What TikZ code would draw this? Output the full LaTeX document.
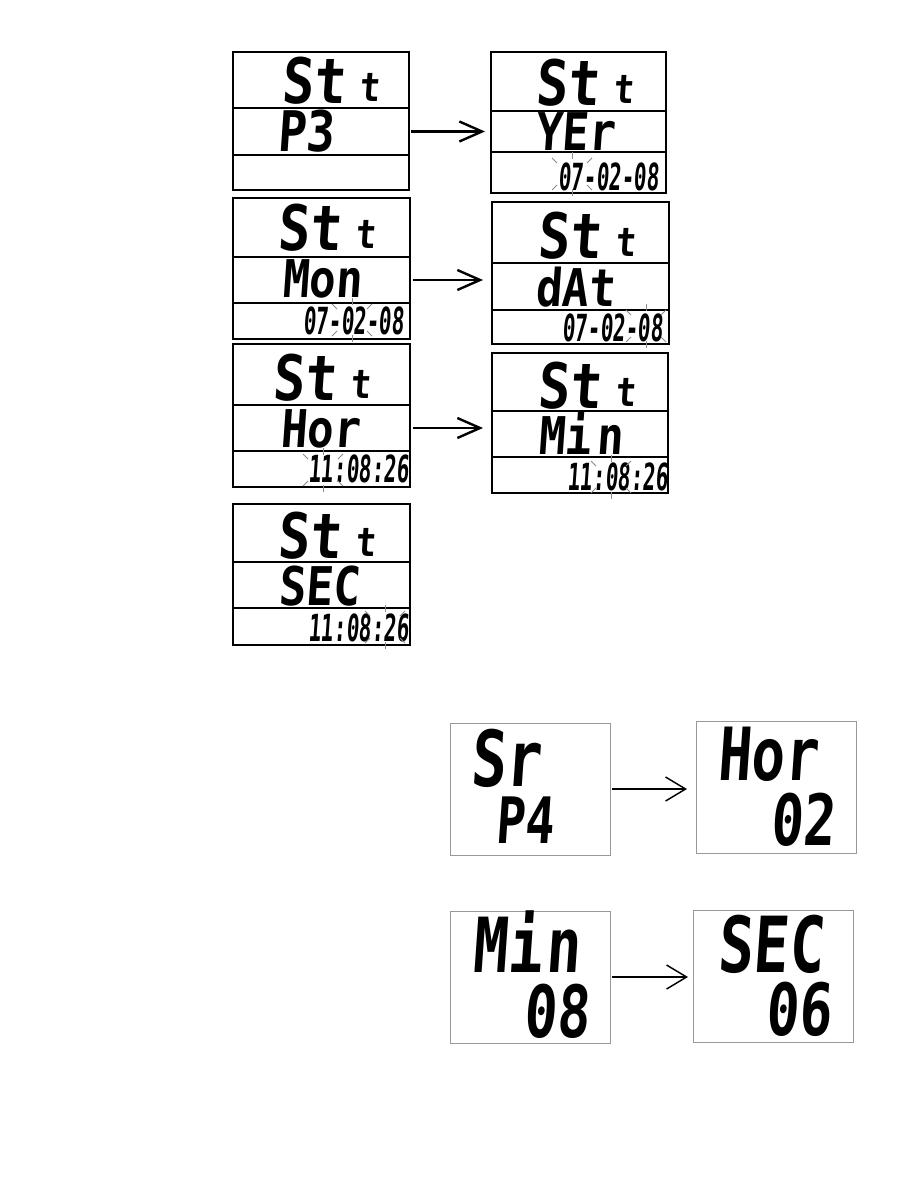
\documentclass[tikz,border=0pt]{standalone}
\usepackage{fontspec}
\usetikzlibrary{positioning,arrows.meta,fit}
\newfontfamily\lcdfont{DejaVu Sans Mono}[FakeStretch=0.85,FakeSlant=0.07]
\newfontfamily\lcdpanefont{DejaVu Sans Mono}[FakeStretch=0.76,FakeSlant=0.07]
\newfontfamily\lcdnarrow{DejaVu Sans Mono}[FakeStretch=0.56,FakeSlant=0.07]

\tikzset{
  lcdrow/.style={draw,line width=0.8pt,inner sep=0pt,outer sep=0pt},
  lcdpane/.style={draw=gray!80,line width=0.6pt,inner sep=0pt,outer sep=0pt},
  lcdtext/.style={inner sep=0pt,anchor=base west,text depth=0pt},
  blink/.style={draw=black!45,line width=0.6pt},
  flowarrow/.style={-{Straight Barb[length=17pt,width=15pt]},line width=1.8pt},
  flowthin/.style={-{Straight Barb[length=15pt,width=18pt]},line width=1.1pt},
}
\newcommand{\lcdsize}[1]{\lcdfont\bfseries\fontsize{#1}{#1}\selectfont}
\newcommand{\lcdbig}[1]{\lcdpanefont\bfseries\fontsize{#1}{#1}\selectfont}
\newcommand{\lcdtime}{\lcdnarrow\bfseries\fontsize{28}{28}\selectfont}

\begin{document}
\begin{tikzpicture}[x=0.75pt,y=-0.75pt]
  \fill[white] (0,0) rectangle (907,1199);
  \useasboundingbox (0,0) rectangle (907,1199);

  % setting panels: three rows each
  \foreach \p/\xa/\xb/\ya/\yb/\yc/\yd in {
    a/233/409/52/108/155/190, b/491/666/52/111/152/193,
    c/233/410/198/257/303/339, d/492/669/202/263/310/344,
    e/233/410/344/405/451/487, f/492/668/353/411/457/493,
    g/233/410/504/562/608/645}{
    \node[lcdrow,fit={(\xa,\ya) (\xb,\yb)}] (\p1) {};
    \node[lcdrow,fit={(\xa,\yb) (\xb,\yc)}] (\p2) {};
    \node[lcdrow,fit={(\xa,\yc) (\xb,\yd)}] (\p3) {};
  }
  \foreach \p/\x/\y in {a/281/103,b/535/105,c/277/250,d/537/258,
                        e/272/400,f/537/408,g/277/558}{
    \node[lcdtext,font=\lcdsize{47}] (\p St) at (\x,\y) {St};
    \node[lcdtext,font=\lcdsize{30}] (\p tt) at (\x+78,\y-2) {t};
  }

  \node[lcdtext,font=\lcdsize{42}] (aword) at (277,151) {P3};
  \node[lcdtext,font=\lcdsize{39}] (bword) at (535,150) {YEr};
  \node[lcdtext,font=\lcdsize{39}] (cword) at (282,297) {Mon};
  \node[lcdtext,font=\lcdsize{39}] (dword) at (535,306) {dAt};
  \node[lcdtext,font=\lcdsize{39}] (eword) at (280,447) {Hor};
  \node[lcdtext,font=\lcdsize{39}] (fword) at (538,454) {Mi\kern4pt n};
  \node[lcdtext,font=\lcdsize{40}] (gword) at (278,605) {SEC};

  \node[lcdtext,font=\lcdtime] (bdate) at (558,190) {07-02-08};
  \node[lcdtext,font=\lcdtime] (cdate) at (303,334) {07-02-08};
  \node[lcdtext,font=\lcdtime] (ddate) at (562,341) {07-02-08};
  \node[lcdtext,font=\lcdtime] (etime) at (308,482) {11:08:26};
  \node[lcdtext,font=\lcdtime] (ftime) at (567,490) {11:08:26};
  \node[lcdtext,font=\lcdtime] (gtime) at (308,641) {11:08:26};

  % blinking field marks
  \foreach \cx/\cy in {572/174,352/320,646/326,323/470,611/477,385/627}{
    \draw[blink] (\cx-20,\cy-16) -- (\cx-15,\cy-11);
    \draw[blink] (\cx+15,\cy-11) -- (\cx+20,\cy-16);
    \draw[blink] (\cx,\cy-22) -- (\cx,\cy-15);
    \draw[blink] (\cx-20,\cy+16) -- (\cx-15,\cy+11);
    \draw[blink] (\cx+15,\cy+11) -- (\cx+20,\cy+16);
    \draw[blink] (\cx,\cy+22) -- (\cx,\cy+15);
  }

  \draw[flowarrow,shorten <=1.5pt,shorten >=4.5pt] (a2.east) -- (a2.east -| b2.west);
  \draw[flowarrow,shorten <=2.25pt,shorten >=6.75pt] (c2.east) -- (c2.east -| d2.west);
  \draw[flowarrow,shorten <=2.25pt,shorten >=6.75pt] (e2.east) -- (e2.east -| f2.west);

  % return-time panels
  \node[lcdpane,fit={(450,723) (610,855)}] (srpane) {};
  \node[lcdpane,fit={(696,721) (856,853)}] (horpane) {};
  \node[lcdpane,fit={(450,911) (610,1043)}] (minpane) {};
  \node[lcdpane,fit={(693,910) (853,1042)}] (secpane) {};

  \node[lcdtext,font=\lcdbig{58}] (srword) at (470,786) {Sr};
  \node[lcdtext,font=\lcdbig{48}] (srval) at (495,843) {P4};
  \node[lcdtext,font=\lcdbig{55}] (horword) at (717,780) {Hor};
  \node[lcdtext,font=\lcdbig{53}] (horval) at (770,845) {02};
  \node[lcdtext,font=\lcdbig{57}] (minword) at (472,972) {Mi\kern3pt n};
  \node[lcdtext,font=\lcdbig{54}] (minval) at (523,1037) {08};
  \node[lcdtext,font=\lcdbig{58}] (secword) at (717,972) {SEC};
  \node[lcdtext,font=\lcdbig{54}] (secval) at (765,1035) {06};

  \draw[flowthin,shorten <=1.5pt,shorten >=6.75pt] (srpane.east) -- (srpane.east -| horpane.west);
  \draw[flowthin,shorten <=1.5pt,shorten >=3.75pt] (minpane.east) -- (minpane.east -| secpane.west);
\end{tikzpicture}
\end{document}
